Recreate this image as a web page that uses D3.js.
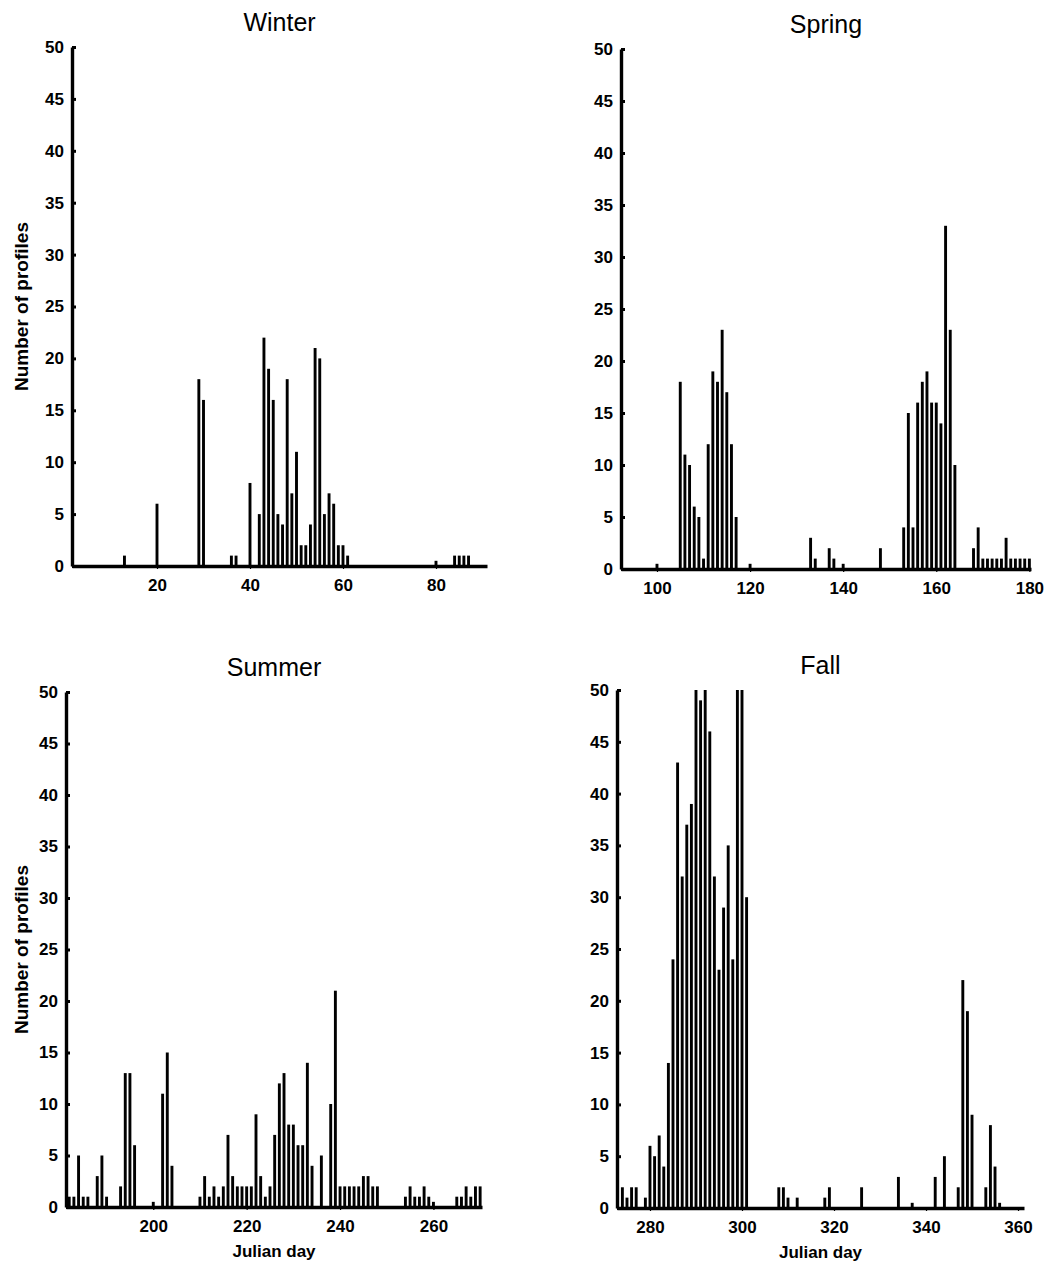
<!DOCTYPE html>
<html><head><meta charset="utf-8">
<script src="https://cdn.jsdelivr.net/npm/d3@7"></script>
<style>
body{margin:0;background:#fff}
svg{display:block}
text{font-family:"Liberation Sans",Arial,Helvetica,sans-serif;fill:#000}
</style>
</head><body>
<svg id="chart" width="1054" height="1278"></svg>
<script>
// ---------------- data ----------------
const seasons = ["Winter", "Spring", "Summer", "Fall"];

const winterDays   = [13,20,29,30,36,37,40,42,43,44,45,46,47,48,49,50,51,52,53,54,55,56,57,58,59,60,61,80,84,85,86,87];
const winterCounts = [1,6,18,16,1,1,8,5,22,19,16,5,4,18,7,11,2,2,4,21,20,5,7,6,2,2,1,0.5,1,1,1,1];

const springDays   = [100,105,106,107,108,109,110,111,112,113,114,115,116,117,120,133,134,137,138,140,148,153,154,155,156,157,158,159,160,161,162,163,164,168,169,170,171,172,173,174,175,176,177,178,179,180];
const springCounts = [0.5,18,11,10,6,5,1,12,19,18,23,17,12,5,0.5,3,1,2,1,0.5,2,4,15,4,16,18,19,16,16,14,33,23,10,2,4,1,1,1,1,1,3,1,1,1,1,1];

const summerDays   = [182,183,184,185,186,188,189,190,193,194,195,196,200,202,203,204,210,211,212,213,214,215,216,217,218,219,220,221,222,223,224,225,226,227,228,229,230,231,232,233,234,236,238,239,240,241,242,243,244,245,246,247,248,254,255,256,257,258,259,260,265,266,267,268,269,270];
const summerCounts = [1,1,5,1,1,3,5,1,2,13,13,6,0.5,11,15,4,1,3,1,2,1,2,7,3,2,2,2,2,9,3,1,2,7,12,13,8,8,6,6,14,4,5,10,21,2,2,2,2,2,3,3,2,2,1,2,1,1,2,1,0.5,1,1,2,1,2,2];

const fallDays   = [274,275,276,277,279,280,281,282,283,284,285,286,287,288,289,290,291,292,293,294,295,296,297,298,299,300,301,308,309,310,312,318,319,326,334,337,342,344,347,348,349,350,353,354,355,356];
const fallCounts = [2,1,2,2,1,6,5,7,4,14,24,43,32,37,39,50,49,50,46,32,23,29,35,24,50,50,30,2,2,1,1,1,2,2,3,0.5,3,5,2,22,19,9,2,8,4,0.5];

const yTicks = [0,5,10,15,20,25,30,35,40,45,50];
const winterTicks = [20,40,60,80];
const springTicks = [100,120,140,160,180];
const summerTicks = [200,220,240,260];
const fallTicks   = [280,300,320,340,360];

const yLabel = "Number of profiles";
const xLabel = "Julian day";

// ---------------- layout ----------------
const panels = [
  {title: seasons[0], days: winterDays, counts: winterCounts, ticks: winterTicks,
   domain: [1.72, 90.97], left: 72, right: 487, top: 47, bottom: 566, ylab: true, xlab: false},
  {title: seasons[1], days: springDays, counts: springCounts, ticks: springTicks,
   domain: [92.27, 180.35], left: 621, right: 1031, top: 49, bottom: 569, ylab: false, xlab: false},
  {title: seasons[2], days: summerDays, counts: summerCounts, ticks: summerTicks,
   domain: [181.31, 270.4], left: 66, right: 482, top: 692, bottom: 1207, ylab: true, xlab: true},
  {title: seasons[3], days: fallDays, counts: fallCounts, ticks: fallTicks,
   domain: [272.83, 361.3], left: 617, right: 1024, top: 690, bottom: 1208, ylab: false, xlab: true}
];

const svg = d3.select("#chart");
const barW = 2.9;
const fontFam = "'Liberation Sans', Arial, sans-serif";

panels.forEach(p => {
  const x = d3.scaleLinear().domain(p.domain).range([p.left, p.right]);
  const y = d3.scaleLinear().domain([0, 50]).range([p.bottom, p.top]);
  const g = svg.append("g");

  const data = p.days.map((d, i) => ({day: d, n: p.counts[i]}));

  // bars
  g.selectAll("rect.bar").data(data).enter().append("rect")
    .attr("class", "bar")
    .attr("x", d => x(d.day) - barW / 2)
    .attr("width", barW)
    .attr("y", d => y(d.n))
    .attr("height", d => y(0) - y(d.n))
    .attr("fill", "#000");

  // y axis
  const ya = d3.axisLeft(y).tickValues(yTicks).tickSizeInner(-4).tickSizeOuter(0).tickPadding(8);
  const yg = g.append("g").attr("transform", `translate(${p.left},0)`).call(ya);
  yg.select(".domain").attr("stroke-width", 3.4).attr("stroke", "#000");
  yg.selectAll(".tick line").attr("stroke-width", 3).attr("stroke", "#000");
  yg.selectAll(".tick text").attr("font-size", 17).attr("font-weight", "bold")
    .attr("font-family", fontFam);

  // x axis
  const xa = d3.axisBottom(x).tickValues(p.ticks).tickSizeInner(3).tickSizeOuter(0).tickPadding(10);
  const xg = g.append("g").attr("transform", `translate(0,${p.bottom})`).call(xa);
  xg.select(".domain").attr("stroke-width", 3.4).attr("stroke", "#000");
  xg.selectAll(".tick line").attr("stroke-width", 1.2).attr("stroke", "#000");
  xg.selectAll(".tick text").attr("font-size", 17).attr("font-weight", "bold")
    .attr("font-family", fontFam);

  // title
  g.append("text")
    .attr("x", (p.left + p.right) / 2)
    .attr("y", p.top - 16)
    .attr("text-anchor", "middle")
    .attr("font-size", 25)
    .text(p.title);

  if (p.ylab) {
    g.append("text")
      .attr("transform", `translate(${28},${(p.top + p.bottom) / 2}) rotate(-90)`)
      .attr("text-anchor", "middle")
      .attr("font-size", 19)
      .attr("font-weight", "bold")
      .text(yLabel);
  }
  if (p.xlab) {
    g.append("text")
      .attr("x", (p.left + p.right) / 2)
      .attr("y", p.bottom + 50)
      .attr("text-anchor", "middle")
      .attr("font-size", 17)
      .attr("font-weight", "bold")
      .text(xLabel);
  }
});
</script>
</body></html>
